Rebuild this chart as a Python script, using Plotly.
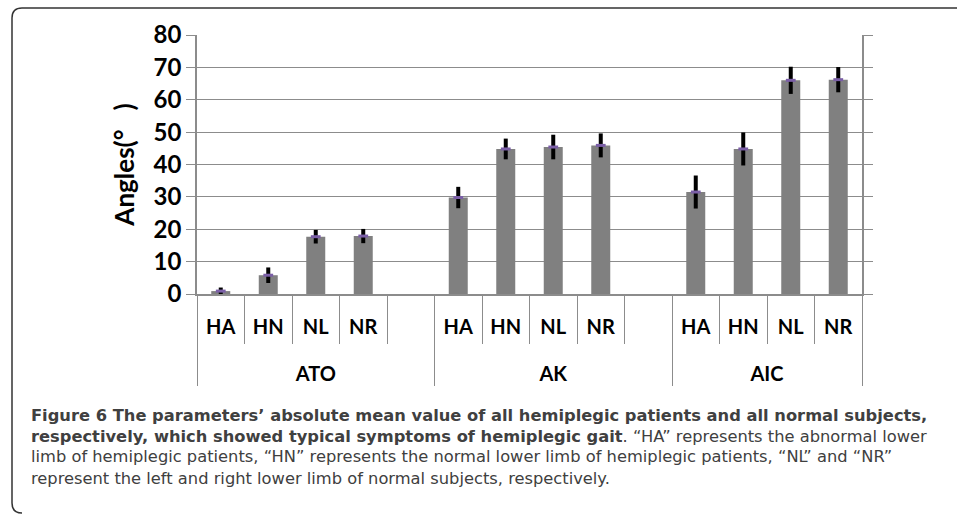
import plotly.graph_objects as go

# ---- data ----
groups = ["ATO"] * 5 + ["AK"] * 5 + ["AIC"] * 4
subs = ["HA", "HN", "NL", "NR", " ",
        "HA", "HN", "NL", "NR", " ",
        "HA", "HN", "NL", "NR"]
values = [0.9, 5.8, 17.7, 17.9, None,
          29.8, 44.8, 45.4, 45.9, None,
          31.5, 44.8, 66.0, 66.2]
errors = [1.1, 2.4, 2.1, 2.2, None,
          3.3, 3.2, 3.8, 3.7, None,
          5.1, 5.1, 4.2, 3.9]
y_ticks = [0, 10, 20, 30, 40, 50, 60, 70, 80]

caption_lines = [
    "<b>Figure 6 The parameters’ absolute mean value of all hemiplegic patients and all normal subjects,</b>",
    "<b>respectively, which showed typical symptoms of hemiplegic gait</b>. “HA” represents the abnormal lower",
    "limb of hemiplegic patients, “HN” represents the normal lower limb of hemiplegic patients, “NL” and “NR”",
    "represent the left and right lower limb of normal subjects, respectively.",
]

# ---- layout geometry (pixels) ----
W, H = 957, 516
L, R, T, B = 197, 95, 35, 222
PW, PH = W - L - R, H - T - B


def px(x):
    return (x - L) / PW


def py(y):
    return (H - B - y) / PH


GRID = "#8c8c8c"
FONT = "Lato"
LBL = "<span style='font-size:20px'>{}</span>"

# visible label text at 20px; axis font larger so the row spacing matches
group_labels = [LBL.format(g) for g in groups]
sub_labels = [LBL.format(s) + "<br> " for s in subs]

fig = go.Figure()
fig.add_trace(go.Bar(
    x=[group_labels, sub_labels], y=values,
    marker=dict(color="#808080", line=dict(width=0)),
    error_y=dict(type="data", array=errors, visible=True,
                 color="black", thickness=4, width=0),
    showlegend=False, hoverinfo="skip",
))
fig.add_trace(go.Scatter(
    x=[group_labels, sub_labels], y=values, mode="markers",
    marker=dict(symbol="line-ew", size=7, color="#7a5ea6",
                line=dict(color="#7a5ea6", width=3)),
    showlegend=False, hoverinfo="skip",
))

# rounded frame
x0, x1, y0, y1, r = 12, 990, 8, 513, 10
path = (f"M {px(x0 + r)},{py(y0)} L {px(x1)},{py(y0)} "
        f"M {px(x0 + r)},{py(y0)} Q {px(x0)},{py(y0)} {px(x0)},{py(y0 + r)} "
        f"L {px(x0)},{py(y1 - r)} Q {px(x0)},{py(y1)} {px(x0 + r)},{py(y1)}")
shapes = [dict(type="path", xref="paper", yref="paper", path=path,
               line=dict(color="#333333", width=1.5))]

annotations = []
ys = [415, 436, 457, 478]
for txt, yy in zip(caption_lines, ys):
    annotations.append(dict(
        text=txt, xref="paper", yref="paper", x=px(29), y=py(yy),
        xanchor="left", yanchor="middle", showarrow=False,
        font=dict(family="DejaVu Sans", size=16.3, color="#404040"),
    ))

fig.update_layout(
    width=W, height=H,
    margin=dict(l=L, r=R, t=T, b=B, pad=0, autoexpand=False),
    paper_bgcolor="white", plot_bgcolor="white",
    bargap=0.6,
    shapes=shapes, annotations=annotations,
    font=dict(family=FONT, color="black"),
    xaxis=dict(
        type="multicategory", automargin=False,
        range=[-0.5, len(subs) - 0.5],
        showline=True, linecolor=GRID, linewidth=1.5,
        ticks="outside", tickson="boundaries", ticklen=48,
        tickcolor=GRID, tickwidth=1,
        ticklabelstandoff=10,
        tickfont=dict(family=FONT, size=23.5, color="black", weight="bold"),
        showdividers=True, dividercolor=GRID, dividerwidth=1,
        showgrid=False,
    ),
    yaxis=dict(
        automargin=False,
        range=[0, 80], tickvals=y_ticks,
        showgrid=True, gridcolor=GRID, gridwidth=1.3,
        showline=True, linecolor=GRID, linewidth=1.5, mirror="ticks",
        ticks="outside", ticklen=9, tickcolor=GRID, tickwidth=1.3,
        tickfont=dict(family=FONT, size=24, color="black", weight="bold"),
        title=dict(text="Angles(°   )", standoff=12,
                   font=dict(family=FONT, size=26, color="black", weight="bold")),
        zeroline=False,
    ),
)

fig.write_html("out.html", config={"displayModeBar": False},
               post_script="document.body.style.margin='0';")
